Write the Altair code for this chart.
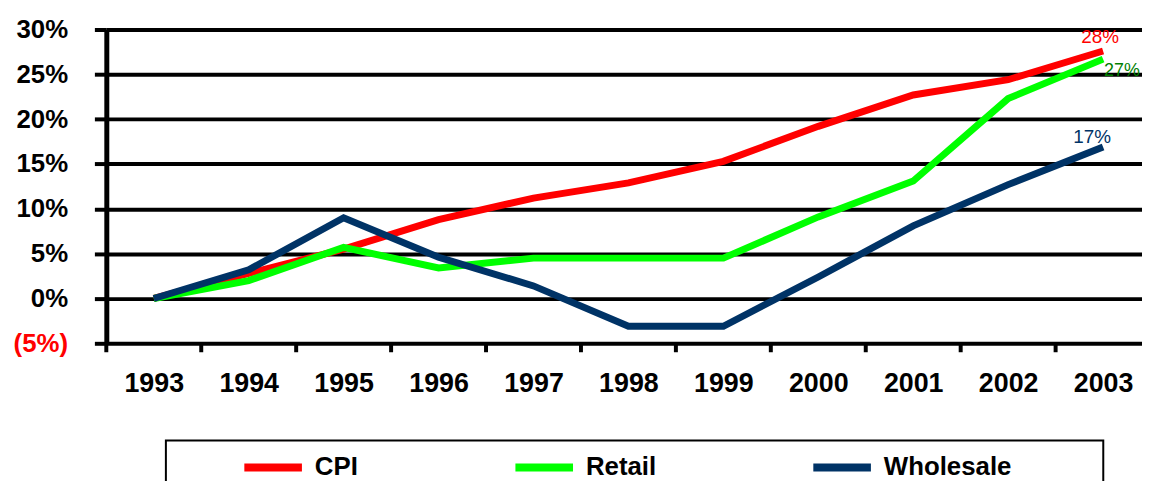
import altair as alt
import pandas as pd

years = [1993, 1994, 1995, 1996, 1997, 1998, 1999, 2000, 2001, 2002, 2003]
cpi = [0.0, 2.8, 5.5, 8.8, 11.2, 12.9, 15.3, 19.2, 22.7, 24.4, 27.6]
retail = [0.0, 2.0, 5.7, 3.4, 4.5, 4.5, 4.5, 9.1, 13.1, 22.3, 26.7]
wholesale = [0.0, 3.2, 9.0, 4.6, 1.4, -3.1, -3.1, 2.4, 8.1, 12.7, 16.9]
series_names = ["CPI", "Retail", "Wholesale"]
series_colors = ["#FF0000", "#00FF00", "#003366"]
label_colors = ["#FF0000", "#008000", "#003366"]
y_ticks = [-5, 0, 5, 10, 15, 20, 25, 30]

FONT = "Liberation Sans"
W, H = 1043, 316
STEP = 95.6
X_MIN = years[0] - 0.5
X_MAX = X_MIN + W / STEP

rows = []
for name, vals in zip(series_names, [cpi, retail, wholesale]):
    for yr, v in zip(years, vals):
        rows.append({"year": yr, "value": v, "series": name})
df = pd.DataFrame(rows)
bounds = pd.DataFrame({"b": [y - 0.5 for y in years]})

xscale = alt.Scale(domain=[X_MIN, X_MAX], nice=False, zero=False)
yscale = alt.Scale(domain=[-5, 30], nice=False)

base = alt.Chart(df)

lines = base.mark_line(strokeWidth=7).encode(
    x=alt.X("year:Q", scale=xscale, title=None,
            axis=alt.Axis(values=years, format="d", grid=False, ticks=False, domain=False,
                          labelFont=FONT, labelFontSize=27, labelFontWeight="bold",
                          labelColor="black", labelPadding=28)),
    y=alt.Y("value:Q", scale=yscale, title=None,
            axis=alt.Axis(values=y_ticks, grid=True, gridColor="black", gridWidth=4, gridOpacity=1,
                          ticks=True, tickColor="black", tickWidth=4, tickSize=12,
                          domain=True, domainColor="black", domainWidth=5,
                          labelFont=FONT, labelFontSize=26, labelFontWeight="bold",
                          labelPadding=27,
                          labelExpr="datum.value < 0 ? '(' + (-datum.value) + '%)' : datum.value + '%'",
                          labelColor=alt.ExprRef("datum.value < 0 ? '#FF0000' : 'black'"))),
    color=alt.Color("series:N", scale=alt.Scale(domain=series_names, range=series_colors),
                    legend=alt.Legend(title=None, orient="none", legendX=135, legendY=408,
                                      direction="horizontal", symbolType="stroke",
                                      symbolStrokeWidth=8, symbolSize=3364,
                                      labelFont=FONT, labelFontSize=26, labelFontWeight="bold",
                                      labelColor="black", labelOffset=9, columnPadding=142,
                                      padding=0)),
)

ticks = alt.Chart(bounds).mark_rule(color="black", strokeWidth=4).encode(
    x=alt.X("b:Q", scale=xscale),
    y=alt.Y(datum=-5, scale=yscale),
    y2=alt.value(H + 9),
)

offsets = {"CPI": (-3, -4, "center", "bottom", 19),
           "Retail": (1, 12, "left", "middle", 18),
           "Wholesale": (-11, 0, "center", "bottom", 19)}
texts = []
for name, col in zip(series_names, label_colors):
    dx, dy, al, bl, fs = offsets[name]
    t = base.transform_filter(
        (alt.datum.series == name) & (alt.datum.year == years[-1])
    ).transform_calculate(
        lab="format(round(datum.value), 'd') + '%'"
    ).mark_text(font=FONT, fontSize=fs, color=col, dx=dx, dy=dy, align=al, baseline=bl).encode(
        x=alt.X("year:Q", scale=xscale),
        y=alt.Y("value:Q", scale=yscale),
        text="lab:N",
    )
    texts.append(t)

box = alt.Chart(alt.Data(values=[{"k": 1}])).mark_rect(
    fill="transparent", stroke="black", strokeWidth=2
).encode(
    x=alt.value(60), x2=alt.value(1004), y=alt.value(414), y2=alt.value(520)
)

chart = alt.layer(ticks, lines, *texts, box).properties(
    width=W, height=H,
    autosize=alt.AutoSizeParams(type="none"),
    padding={"left": 99, "top": 20, "right": 0, "bottom": 137},
).configure_view(stroke=None).configure(background="white")

chart.save("out.html", embed_options={"renderer": "svg", "actions": False})
